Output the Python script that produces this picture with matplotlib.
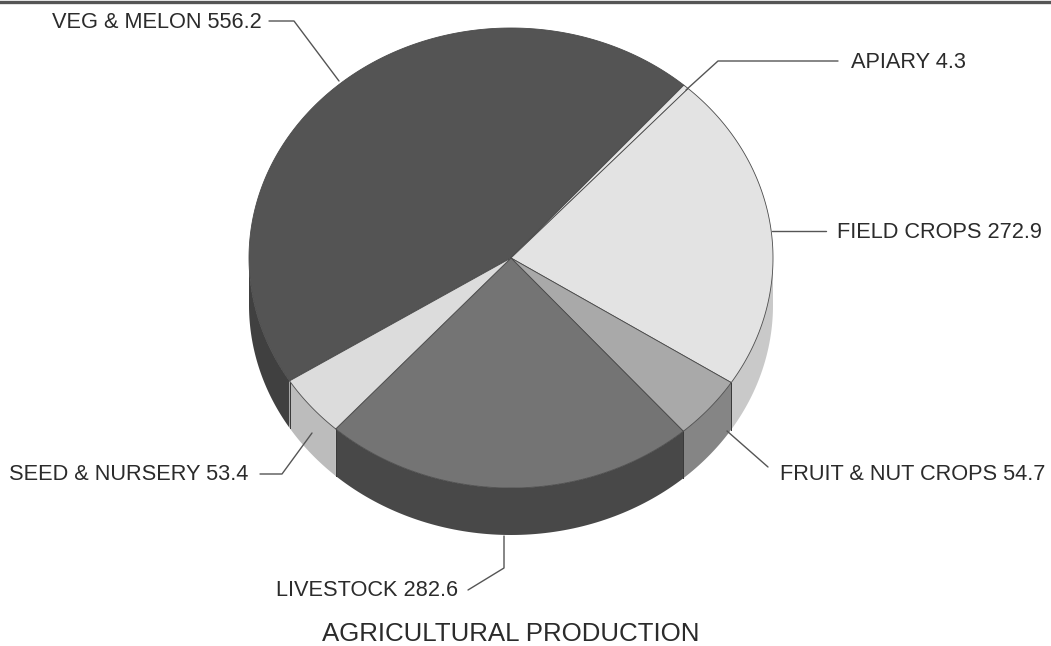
import numpy as np
import matplotlib
matplotlib.use("Agg")
import matplotlib.pyplot as plt

categories = ["VEG & MELON", "APIARY", "FIELD CROPS", "FRUIT & NUT CROPS", "LIVESTOCK", "SEED & NURSERY"]
values = [556.2, 4.3, 272.9, 54.7, 282.6, 53.4]
top_colors = ["#545454", "#e6e6e6", "#e3e3e3", "#a9a9a9", "#747474", "#dcdcdc"]
side_colors = ["#404040", "#c9c9c9", "#c9c9c9", "#858585", "#484848", "#bcbcbc"]
title = "AGRICULTURAL PRODUCTION"

W, H = 1051, 646
CX, CY, RX, RY, DEPTH = 511, 258, 262, 230, 47
START = 212.3

plt.rcParams["font.family"] = ["Liberation Sans", "DejaVu Sans"]
fig = plt.figure(figsize=(W / 100, H / 100), dpi=100, facecolor="white")
ax = fig.add_axes([0, 0, 1, 1])
ax.set_xlim(0, W)
ax.set_ylim(H, 0)
ax.axis("off")

def pt(deg, drop=0):
    a = np.radians(deg)
    return CX + RX * np.cos(a), CY - RY * np.sin(a) + drop

# slice angles run clockwise from START, in proportion to the values
shares = np.array(values) / sum(values) * 360
ends = np.cumsum(np.r_[0, shares])
spans = [(START - ends[i], START - ends[i + 1]) for i in range(len(values))]

# sides: only the front half of the rim shows (angles 180..360, or -180..0)
for (a0, a1), c in zip(spans, side_colors):
    for lo_vis, hi_vis in ((180, 360), (-180, 0)):
        hi2, lo2 = min(a0, hi_vis), max(a1, lo_vis)
        if hi2 > lo2:
            t = np.linspace(hi2, lo2, 80)
            x, y = pt(t)
            xb, yb = pt(t[::-1], DEPTH)
            ax.fill(np.r_[x, xb], np.r_[y, yb], color=c, lw=0, zorder=1)

# vertical rim edges
for (a0, a1) in spans:
    for a in (a0, a1):
        if np.sin(np.radians(a)) < 0:
            x, y = pt(a)
            ax.plot([x, x], [y, y + DEPTH], color="#3a3a3a", lw=0.7, zorder=2)

# top faces
for (a0, a1), c in zip(spans, top_colors):
    t = np.linspace(a0, a1, 200)
    x, y = pt(t)
    ax.fill(np.r_[CX, x], np.r_[CY, y], facecolor=c, edgecolor="#4a4a4a", lw=0.6, zorder=3)

# frame line at the top
ax.plot([0, W], [1.5, 1.5], color="#555555", lw=2.4, zorder=5)

line_kw = dict(color="#555555", lw=1.0, zorder=4, solid_capstyle="round")
text_kw = dict(fontsize=15.65, color="#2b2b2b", va="center", zorder=6)

def label(i, tx, ty, xs, ys):
    ax.text(tx, ty, f"{categories[i]} {values[i]}", ha="left", **text_kw)
    ax.plot(xs, ys, **line_kw)

label(0, 52, 22, [269, 294, 339], [21, 21, 81])
label(1, 851, 62, [838, 718, 686], [61, 61, 90])
label(2, 837, 232, [826, 772], [231, 231])
label(3, 780, 474, [768, 727], [467, 431])
label(4, 276, 590, [468, 504, 504], [590, 568, 536])
label(5, 9, 474, [260, 282, 312], [474, 474, 433])

ax.text(511, 634, title, ha="center", va="center", fontsize=18.6, color="#2b2b2b", zorder=6)

fig.savefig("out.png", dpi=100, facecolor="white")
